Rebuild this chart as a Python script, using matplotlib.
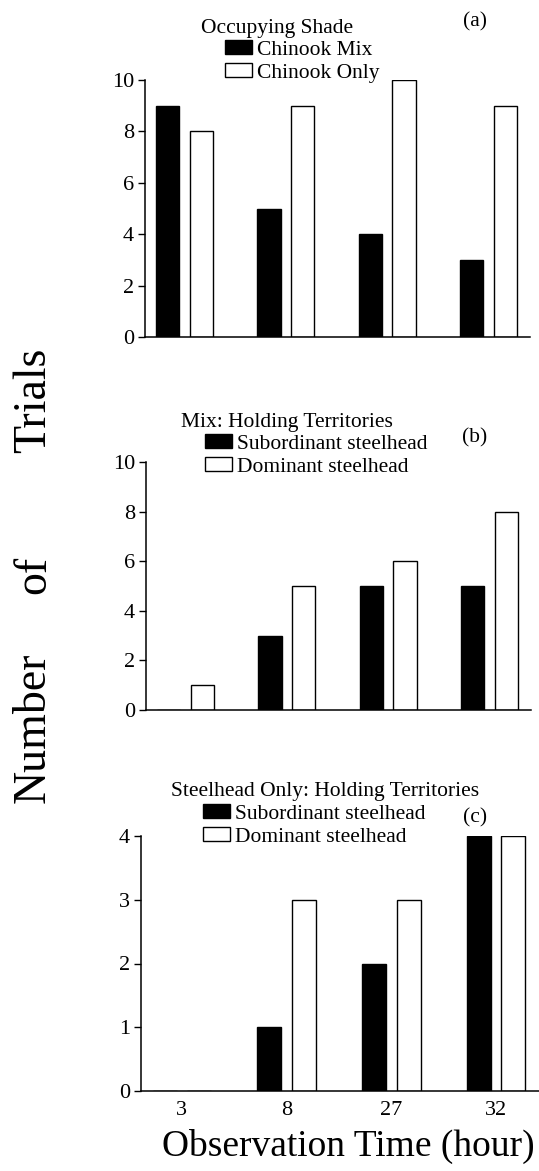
import numpy as np
import matplotlib
matplotlib.use("Agg")
import matplotlib.pyplot as plt

plt.rcParams['font.family'] = ['Liberation Serif', 'DejaVu Serif']

# datos
times = ['3', '8', '27', '32']
shade_mix = [9, 5, 4, 3]
shade_only = [8, 9, 10, 9]
mix_sub = [0, 3, 5, 5]
mix_dom = [1, 5, 6, 8]
only_sub = [0, 1, 2, 4]
only_dom = [0, 3, 3, 4]

W, H = 539, 1171

def fx(px):
    return px / W

def fy(py):
    return 1 - py / H

def box(left, right, top, bottom):
    return [fx(left), fy(bottom), (right - left) / W, (bottom - top) / H]

fig = plt.figure(figsize=(W / 100, H / 100), dpi=100)

x = np.arange(len(times))
off = 0.165
bw = 0.23

black_lbl = {'(a)': 'Chinook Mix', '(b)': 'Subordinant steelhead', '(c)': 'Subordinant steelhead'}
white_lbl = {'(a)': 'Chinook Only', '(b)': 'Dominant steelhead', '(c)': 'Dominant steelhead'}

def panel(rect, black, white, ymax, ystep, labels, title, title_xy, tag, tag_y, leg_xy):
    ax = fig.add_axes(rect)
    b1 = ax.bar(x - off, black, bw, color='black', edgecolor='black', linewidth=1.0)
    b2 = ax.bar(x + off, white, bw, color='white', edgecolor='black', linewidth=1.0)
    ax.set_xlim(-0.39, 3.41)
    ax.set_ylim(0, ymax)
    ax.set_yticks(np.arange(0, ymax + 0.1, ystep))
    ax.set_xticks(x)
    if labels:
        ax.set_xticklabels(times, fontsize=16)
    else:
        ax.set_xticklabels([])
    ax.tick_params(axis='x', length=0, pad=7)
    ax.tick_params(axis='y', length=5, width=1.0, direction='out', pad=3, labelsize=16)
    for s in ['top', 'right']:
        ax.spines[s].set_visible(False)
    for s in ['left', 'bottom']:
        ax.spines[s].set_linewidth(1.1)
    fig.text(fx(title_xy[0]), fy(title_xy[1]), title, ha='center', va='baseline', fontsize=15.5)
    fig.text(fx(475), fy(tag_y), tag, ha='center', va='center', fontsize=15.5)
    ax.legend([b1, b2], [black_lbl[tag], white_lbl[tag]],
              loc='upper left', bbox_to_anchor=(fx(leg_xy[0]), fy(leg_xy[1])),
              bbox_transform=fig.transFigure, frameon=False, fontsize=15.5,
              borderpad=0, borderaxespad=0, handlelength=1.25, handleheight=0.65,
              handletextpad=0.25, labelspacing=0.15)
    return ax

panel(box(145, 530, 80, 337), shade_mix, shade_only, 10, 2, False,
      'Occupying Shade', (277, 33), '(a)', 22, (225, 40))
panel(box(146, 531, 462, 710), mix_sub, mix_dom, 10, 2, False,
      'Mix: Holding Territories', (287, 427), '(b)', 438, (205, 434))
panel(box(141, 539, 836, 1091), only_sub, only_dom, 4, 1, True,
      'Steelhead Only: Holding Territories', (325, 796), '(c)', 818, (203, 804))

# etiqueta vertical con palabras separadas
for word, yc in [('Trials', 400), ('of', 575), ('Number', 728)]:
    fig.text(fx(45), fy(yc), word, rotation=90, rotation_mode='anchor',
             ha='center', va='baseline', fontsize=33)

fig.text(fx(348), fy(1156), 'Observation Time (hour)', ha='center', va='baseline', fontsize=27)

plt.savefig("out.png", dpi=100)
plt.close()
